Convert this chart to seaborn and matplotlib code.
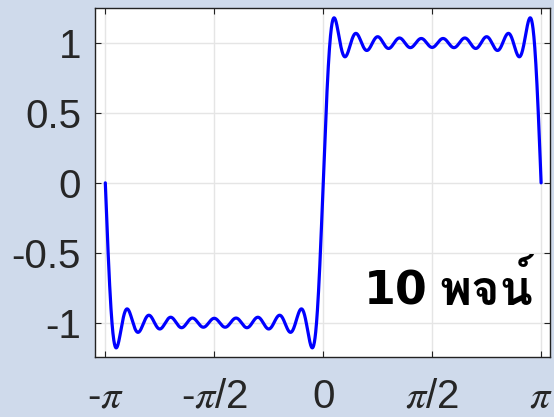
import numpy as np
import matplotlib
matplotlib.use("Agg")
import matplotlib.pyplot as plt
from matplotlib import font_manager
from matplotlib.ft2font import FT2Font
import seaborn as sns

# Fourier partial sum of a square wave: odd harmonics and their amplitudes (4/(n*pi))
harmonics = [1, 3, 5, 7, 9, 11, 13, 15, 17, 19]
amplitudes = [1.27324, 0.42441, 0.25465, 0.18189, 0.14147,
              0.11575, 0.09794, 0.08488, 0.07490, 0.06701]

tick_values = [-np.pi, -np.pi / 2, 0, np.pi / 2, np.pi]
tick_labels = [r"-$\pi$", r"-$\pi$/2", "0", r"$\pi$/2", r"$\pi$"]
y_ticks = [-1, -0.5, 0, 0.5, 1]
y_tick_labels = ["-1", "-0.5", "0", "0.5", "1"]
term_count = "10"
term_word = "พจน์"

x = np.linspace(-np.pi, np.pi, 2000)
y = np.zeros_like(x)
for n, b in zip(harmonics, amplitudes):
    y += b * np.sin(n * x)


def find_font_for(text):
    """Return a font family name that covers every character of text."""
    needed = {ord(c) for c in text if not c.isspace()}
    best = None
    for f in font_manager.fontManager.ttflist:
        try:
            cmap = FT2Font(f.fname).get_charmap()
        except Exception:
            continue
        if needed.issubset(cmap.keys()):
            if f.weight in ("bold", 700) or (isinstance(f.weight, int) and f.weight >= 600):
                return f.name
            best = best or f.name
    return best


sns.set_theme(style="whitegrid")
plt.rcParams["font.family"] = ["Liberation Sans", "DejaVu Sans"]
plt.rcParams["mathtext.fontset"] = "stix"

bg = "#cfdaeb"
fig = plt.figure(figsize=(5.54, 4.17), dpi=100, facecolor=bg)
ax = fig.add_axes([0.1715, 0.1439, 0.8213, 0.8369])
ax.set_facecolor("white")

sns.lineplot(x=x, y=y, ax=ax, color="#0000ff", linewidth=2.3)

ax.set_xlim(-3.29, 3.27)
ax.set_ylim(-1.245, 1.25)
ax.set_xticks(tick_values)
ax.set_xticklabels(tick_labels)
ax.set_yticks(y_ticks)
ax.set_yticklabels(y_tick_labels)
ax.tick_params(axis="both", which="both", direction="in", length=4, width=0.8,
               color="#222222", labelsize=29, labelcolor="#262626",
               top=True, right=True, bottom=True, left=True)
ax.tick_params(axis="y", pad=10)
ax.tick_params(axis="x", pad=15)
ax.grid(True, color="#e5e5e5", linewidth=1.0)
for s in ax.spines.values():
    s.set_visible(True)
    s.set_color("#222222")
    s.set_linewidth(1.0)

# Label: Thai word right-aligned inside the axes, the number set just left of it
thai_family = find_font_for(term_word)
families = [thai_family, "DejaVu Sans"] if thai_family else ["DejaVu Sans"]
word = ax.text(3.03, -0.87, term_word, ha="right", va="baseline", fontsize=35,
               fontweight="bold", color="black", family=families)
fig.canvas.draw()
bb = word.get_window_extent()
base_y = ax.transData.transform((3.03, -0.87))[1]
ax.annotate(term_count, xy=(bb.x0 - 12, base_y), xycoords="figure pixels",
            ha="right", va="baseline", fontsize=33, fontweight="bold",
            color="black", family=["DejaVu Sans"])

fig.savefig("out.png", dpi=100, facecolor=bg)
